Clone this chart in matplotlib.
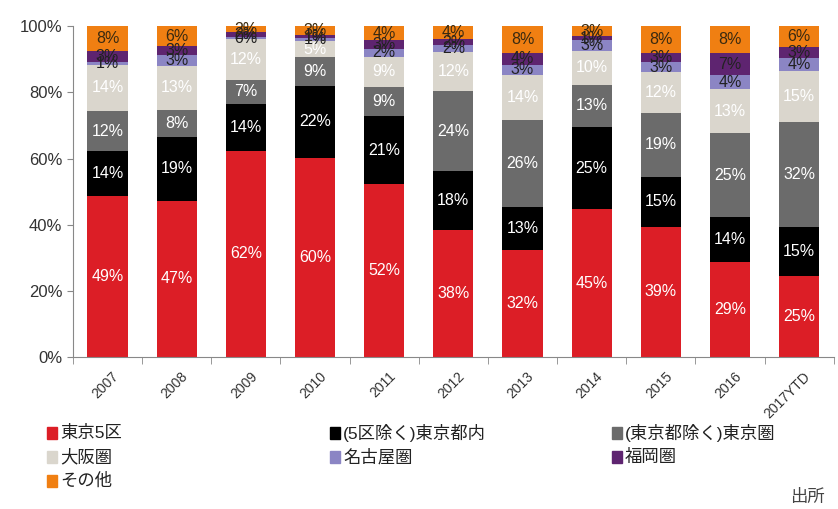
"""Stacked share chart by region, 2007-2017YTD."""

import matplotlib

matplotlib.use("Agg")

import matplotlib.pyplot as plt
import numpy as np
from matplotlib.patches import Rectangle

plt.rcParams["font.family"] = ["Liberation Sans", "Noto Sans CJK JP", "DejaVu Sans"]

years = ["2007", "2008", "2009", "2010", "2011", "2012", "2013", "2014", "2015", "2016", "2017YTD"]
series_names = ["東京5区", "(5区除く)東京都内", "(東京都除く)東京圏", "大阪圏", "名古屋圏", "福岡圏", "その他"]

tokyo5 = [48.6, 47.2, 62.3, 60.3, 52.2, 38.3, 32.4, 44.6, 39.4, 28.6, 24.6]
tokyo_other = [13.6, 19.4, 14.2, 21.6, 20.6, 17.8, 12.8, 24.9, 15.1, 13.7, 14.6]
tokyo_area = [12.2, 8.2, 7.3, 8.7, 8.8, 24.2, 26.3, 12.8, 19.3, 25.4, 31.8]
osaka = [14.0, 13.1, 12.4, 4.8, 9.2, 11.8, 13.8, 10.2, 12.3, 13.2, 15.3]
nagoya = [0.9, 3.3, 0.4, 1.0, 2.2, 2.2, 3.0, 3.2, 3.0, 4.2, 4.1]
fukuoka = [3.1, 2.8, 1.6, 0.8, 2.8, 1.8, 3.7, 1.2, 2.9, 6.9, 3.4]
others = [7.6, 6.0, 1.8, 2.8, 4.2, 3.9, 8.0, 3.1, 8.0, 8.0, 6.2]

colors = ["#dc1e26", "#000000", "#6b6b6b", "#dad6cd", "#8b85c4", "#5e2470", "#f07f12"]
label_colors = ["white", "white", "white", "white", "#222222", "#222222", "#3a2a10"]

data = [tokyo5, tokyo_other, tokyo_area, osaka, nagoya, fukuoka, others]

fig = plt.figure(figsize=(8.38, 5.09), dpi=100)
ax = fig.add_axes([0.087, 0.2986, 0.908, 0.650])

x = np.arange(len(years))
bottom = np.zeros(len(years))
for vals, col, lcol in zip(data, colors, label_colors):
    vals = np.array(vals)
    ax.bar(x, vals, width=0.58, bottom=bottom, color=col, edgecolor="none")
    for xi, b, v in zip(x, bottom, vals):
        ax.text(xi, b + v / 2, f"{v:.0f}%", ha="center", va="center",
                fontsize=11.5, color=lcol)
    bottom += vals

ax.set_xlim(-0.5, len(years) - 0.5)
ax.set_ylim(0, 100)
ax.set_yticks(np.arange(0, 101, 20))
ax.set_yticklabels([f"{v}%" for v in range(0, 101, 20)], fontsize=12, color="#333333")
ax.set_xticks(x + 0.06)
ax.set_xticklabels(years, rotation=45, ha="right", rotation_mode="anchor",
                   fontsize=10, color="#333333")
ax.set_xticks(np.arange(-0.5, len(years)), minor=True)
ax.tick_params(axis="x", which="major", length=0, pad=9)
ax.tick_params(axis="x", which="minor", length=5, color="#888888")
ax.tick_params(axis="y", length=4, color="#888888")
for side in ["top", "right"]:
    ax.spines[side].set_visible(False)
for side in ["left", "bottom"]:
    ax.spines[side].set_color("#888888")

# legend laid out row by row, like the original
legend_x = [47, 330, 612]
legend_y = [433, 457, 481]
W, H = 838, 509
for i, (name, col) in enumerate(zip(series_names, colors)):
    px = legend_x[i % 3]
    py = legend_y[i // 3]
    fig.patches.append(Rectangle((px / W, (H - py - 6) / H), 10 / W, 12 / H,
                                 transform=fig.transFigure, color=col))
    fig.text((px + 13) / W, (H - py) / H, name, fontsize=12.5, va="center",
             color="#222222")

fig.text(790 / W, (H - 497) / H, "出所", fontsize=12.5, va="center", color="#444444")

fig.savefig("out.png", dpi=100)
